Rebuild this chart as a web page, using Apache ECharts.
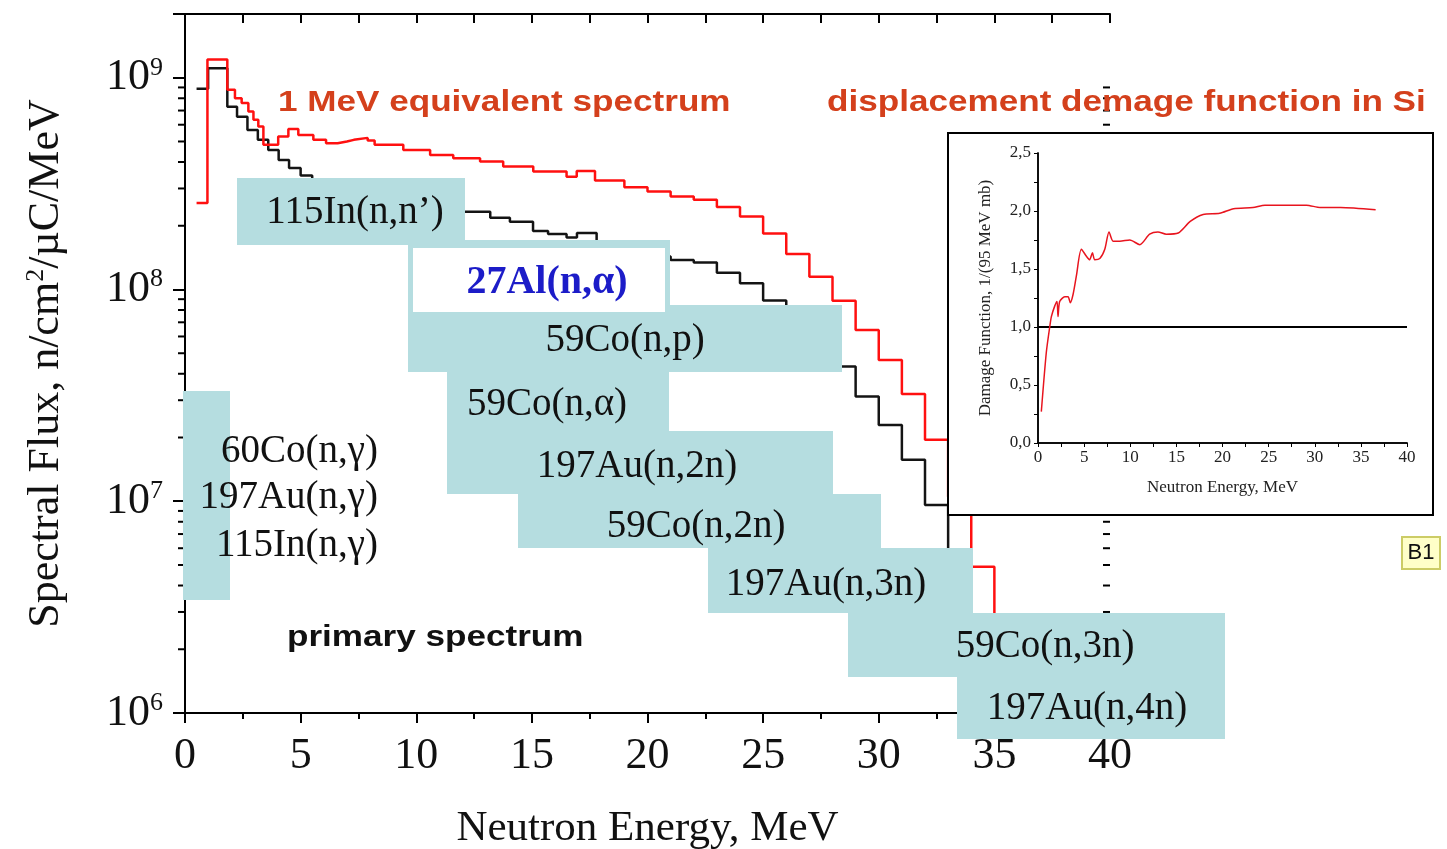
<!DOCTYPE html>
<html><head><meta charset="utf-8">
<script src="https://cdn.jsdelivr.net/npm/echarts@6/dist/echarts.min.js"></script>
<style>html,body{margin:0;padding:0;background:#fff}#c{width:1447px;height:849px}</style>
</head><body><div id="c"></div>
<script>
// ================= DATA =================
// Primary neutron spectrum (black histogram): bin edges (MeV) and flux per bin
const primaryEdges = [0.5, 1.0, 1.83, 2.25, 2.7, 3.15, 3.6, 4.05, 4.5, 5.0, 5.5, 6.0, 7, 8, 9, 10, 11, 12.0, 13.2, 14.05, 15.05, 15.7, 16.5, 16.95, 17.8, 19, 20, 21, 22, 23, 24, 25, 26, 27, 28, 29, 30, 31, 32, 33, 34];
const primaryFlux  = [8.87e8, 1.11e9, 7.29e8, 6.54e8, 5.67e8, 5.09e8, 4.56e8, 4.09e8, 3.75e8, 3.45e8, 3.30e8, 3.15e8, 3.0e8, 2.85e8, 2.7e8, 2.55e8, 2.40e8, 2.33e8, 2.18e8, 2.09e8, 1.89e8, 1.83e8, 1.76e8, 1.85e8, 1.58e8, 1.50e8, 1.43e8, 1.38e8, 1.34e8, 1.20e8, 1.07e8, 8.88e7, 7.6e7, 6.0e7, 4.33e7, 3.12e7, 2.29e7, 1.57e7, 9.6e6, 3.5e6];
// 1 MeV equivalent spectrum (red histogram)
const equivEdges = [0.5, 0.97, 1.83, 2.16, 2.45, 2.74, 2.96, 3.17, 3.39, 4.03, 4.47, 4.9, 5.55, 6.1, 6.6, 7.0, 7.3, 7.9, 8.2, 9.44, 10.6, 11.6, 12.76, 13.76, 15.06, 16.5, 16.94, 17.73, 19, 20, 21, 22, 23, 24, 25, 26, 27, 28, 29, 30, 31, 32, 33, 34, 35, 36];
const equivFlux  = [2.56e8, 1.22e9, 8.77e8, 8.01e8, 7.59e8, 6.92e8, 6.33e8, 5.88e8, 4.82e8, 5.28e8, 5.72e8, 5.37e8, 5.09e8, 4.91e8, 5.0e8, 5.09e8, 5.2e8, 5.05e8, 4.82e8, 4.56e8, 4.32e8, 4.17e8, 4.02e8, 3.81e8, 3.61e8, 3.41e8, 3.63e8, 3.27e8, 3.04e8, 2.90e8, 2.75e8, 2.65e8, 2.45e8, 2.21e8, 1.84e8, 1.47e8, 1.15e8, 8.84e7, 6.44e7, 4.64e7, 3.21e7, 1.95e7, 1.05e7, 4.91e6, 2.0e6];
// Displacement damage function in Si (inset)
const damageEnergy = [0.36, 0.9, 1.27, 1.45, 1.81, 2.06, 2.17, 2.35, 2.9, 3.26, 3.5, 3.8, 4.16, 4.7, 5.25, 5.6, 5.9, 6.15, 6.7, 7.24, 7.7, 8.14, 8.87, 9.95, 11.04, 12.1, 13.0, 13.9, 15.2, 16.5, 17.9, 19.7, 21.2, 23.3, 24.6, 25.5, 29.1, 30.6, 32.8, 36.6];
const damageValue  = [0.27, 0.78, 1.0, 1.09, 1.18, 1.22, 1.09, 1.22, 1.26, 1.26, 1.21, 1.28, 1.44, 1.67, 1.61, 1.58, 1.64, 1.58, 1.59, 1.67, 1.82, 1.74, 1.74, 1.75, 1.71, 1.80, 1.82, 1.80, 1.81, 1.91, 1.97, 1.98, 2.02, 2.03, 2.05, 2.05, 2.05, 2.03, 2.03, 2.01];
const damageReference = 1.0;
// Reaction threshold labels
const reactionLabels = ['115In(n,n’)', '59Co(n,p)', '59Co(n,α)', '197Au(n,2n)', '59Co(n,2n)', '197Au(n,3n)', '59Co(n,3n)', '197Au(n,4n)'];
const highlightLabel = '27Al(n,α)';
const captureLabels = ['60Co(n,γ)', '197Au(n,γ)', '115In(n,γ)'];
const xTickValues = [0, 5, 10, 15, 20, 25, 30, 35, 40];
const yDecades = [6, 7, 8, 9];
const insetYTicks = [0, 0.5, 1.0, 1.5, 2.0, 2.5];

// ================= LAYOUT =================
const boxColor = '#b5dde0';
const boxRects = [ [237,178,228,67], [408,305,434,67], [447,371,222,61], [447,431,386,63], [518,494,363,54], [708,548,265,65], [848,613,377,64], [957,677,268,62] ];
const boxTextPos = [ [355,213], [625,341], [547,405], [637,467], [696,527], [826,585], [1045,647], [1087,709] ];
const alOuter = [408,240,262,72], alInner = [413,248,252,64], alTextPos = [547,283];
const capBox = [183,391,47,209], capTextX = 378, capTextY = [452,498,546];

function histogram(edges, vals) {
  const pts = vals.map((v, i) => [edges[i], v]);
  pts.push([edges[edges.length - 1], vals[vals.length - 1]]);
  return pts;
}
const minorVals = [];
yDecades.forEach(d => { for (let k = 2; k <= 9; k++) minorVals.push([0, k * Math.pow(10, d)]); });

const serif = '"Liberation Serif", "Times New Roman", serif';
const sans = '"Liberation Sans", Arial, sans-serif';
const yFmt = v => { const e = Math.log10(v); return Math.abs(e - Math.round(e)) < 1e-6 ? '{b|10}{s|' + Math.round(e) + '}' : ''; };

const chart = echarts.init(document.getElementById('c'), null, {renderer: 'canvas'});
const axisLine = {show: true, lineStyle: {color: '#000', width: 2}};

const graphics = [];
function rect(r, fill, z, extra) { graphics.push(Object.assign({type: 'rect', shape: {x: r[0], y: r[1], width: r[2], height: r[3]}, style: {fill: fill}, z: z, silent: true}, extra || {})); }
function text(t, x, y, opts) {
  graphics.push({type: 'text', x: x, y: y, z: opts.z || 52, scaleX: opts.scaleX || 1, silent: true,
    style: {text: t, fill: opts.color || '#111', fontSize: opts.size, fontFamily: opts.family, fontWeight: opts.weight || 'normal',
      align: opts.align || 'center', verticalAlign: 'middle', textAlign: opts.align || 'center', textVerticalAlign: 'middle'}});
}
rect(alOuter, boxColor, 50);
boxRects.forEach(r => rect(r, boxColor, 50));
rect(capBox, boxColor, 50);
rect(alInner, '#ffffff', 51);
reactionLabels.forEach((t, i) => text(t, boxTextPos[i][0], boxTextPos[i][1], {size: 39, family: serif}));
captureLabels.forEach((t, i) => text(t, capTextX, capTextY[i], {size: 39, family: serif, align: 'right'}));
text(highlightLabel, alTextPos[0], alTextPos[1], {size: 40, family: serif, weight: 'bold', color: '#1c1cc8'});
text('1 MeV equivalent spectrum', 278, 103, {size: 30, family: sans, weight: 'bold', color: '#d4401c', align: 'left', scaleX: 1.17});
text('displacement demage function in Si', 827, 103, {size: 30, family: sans, weight: 'bold', color: '#d4401c', align: 'left', scaleX: 1.17});
text('primary spectrum', 287, 638, {size: 30, family: sans, weight: 'bold', color: '#111', align: 'left', scaleX: 1.17});
// inset frame
graphics.push({type: 'rect', shape: {x: 948, y: 133, width: 485, height: 382}, style: {fill: '#fff', stroke: '#000', lineWidth: 2}, z: 60, silent: true});
// B1 tag
graphics.push({type: 'rect', shape: {x: 1402, y: 537, width: 38, height: 32}, style: {fill: '#ffffc8', stroke: '#cccc66', lineWidth: 2}, z: 60, silent: true});
text('B1', 1421, 553, {size: 22, family: sans, color: '#111', z: 61});

const insetAxisCommon = {axisLine: {show: true, lineStyle: {color: '#000', width: 1.5}}, splitLine: {show: false}, z: 70};

const option = {
  backgroundColor: '#fff',
  animation: false,
  grid: [
    {left: 185, top: 14, width: 925, height: 699, containLabel: false, outerBoundsMode: 'none'},
    {left: 1038, top: 153, width: 369, height: 290, z: 70, containLabel: false, outerBoundsMode: 'none'}
  ],
  xAxis: [
    {gridIndex: 0, type: 'value', min: 0, max: 40, interval: 5, position: 'bottom',
      name: 'Neutron Energy, MeV', nameLocation: 'middle', nameGap: 94,
      nameTextStyle: {fontFamily: serif, fontSize: 43, color: '#111'},
      axisLine: axisLine, axisTick: {show: true, inside: false, length: 10, lineStyle: {color: '#000', width: 2}},
      minorTick: {show: true, splitNumber: 2, length: 6, lineStyle: {color: '#000', width: 2}},
      axisLabel: {fontFamily: serif, fontSize: 44, color: '#111', margin: 21, formatter: v => xTickValues.indexOf(v) >= 0 ? String(v) : ''},
      splitLine: {show: false}},
    {gridIndex: 0, type: 'value', min: 0, max: 40, interval: 5, position: 'top',
      axisLine: axisLine, axisTick: {show: true, inside: true, length: 9, lineStyle: {color: '#000', width: 2}},
      minorTick: {show: true, splitNumber: 2, length: 9, lineStyle: {color: '#000', width: 2}},
      axisLabel: {show: false}, splitLine: {show: false}},
    Object.assign({gridIndex: 1, type: 'value', min: 0, max: 40, interval: 5, position: 'bottom',
      name: 'Neutron Energy, MeV', nameLocation: 'middle', nameGap: 36,
      nameTextStyle: {fontFamily: serif, fontSize: 17, color: '#222'},
      axisTick: {show: true, inside: false, length: 4, lineStyle: {color: '#000'}},
      minorTick: {show: true, splitNumber: 2, length: 3, lineStyle: {color: '#000'}},
      axisLabel: {fontFamily: serif, fontSize: 17, color: '#222', margin: 6}}, insetAxisCommon),
    Object.assign({gridIndex: 1, type: 'value', min: 0, max: 40, interval: 5, position: 'top',
      axisTick: {show: true, inside: true, length: 4, lineStyle: {color: '#000'}},
      minorTick: {show: true, splitNumber: 2, length: 4, lineStyle: {color: '#000'}},
      axisLabel: {show: false}}, insetAxisCommon)
  ],
  yAxis: [
    {gridIndex: 0, type: 'log', logBase: 10, min: 1e6, max: 2e9, position: 'left',
      name: '{a|Spectral Flux, n/cm}{s|2}{a|/µC/MeV}', nameLocation: 'middle', nameGap: 116, nameRotate: 90,
      nameTextStyle: {rich: {a: {fontFamily: serif, fontSize: 44, color: '#111', lineHeight: 46}, s: {fontFamily: serif, fontSize: 26, color: '#111', verticalAlign: 'top', lineHeight: 26}}},
      axisLine: axisLine, axisTick: {show: true, inside: false, length: 12, lineStyle: {color: '#000', width: 2}},
      axisLabel: {margin: 22, formatter: yFmt, rich: {b: {fontFamily: serif, fontSize: 44, color: '#111', lineHeight: 46}, s: {fontFamily: serif, fontSize: 26, color: '#111', verticalAlign: 'top', lineHeight: 24}}},
      splitLine: {show: false}},
    {gridIndex: 0, type: 'log', logBase: 10, min: 1e6, max: 2e9, position: 'right',
      axisLine: axisLine, axisTick: {show: true, inside: true, length: 12, lineStyle: {color: '#000', width: 2}},
      axisLabel: {show: false}, splitLine: {show: false}},
    Object.assign({gridIndex: 1, type: 'value', min: 0, max: 2.5, interval: 0.5, position: 'left',
      name: 'Damage Function, 1/(95 MeV mb)', nameLocation: 'middle', nameGap: 44, nameRotate: 90,
      nameTextStyle: {fontFamily: serif, fontSize: 17, color: '#222'},
      axisTick: {show: true, inside: false, length: 4, lineStyle: {color: '#000'}},
      minorTick: {show: true, splitNumber: 2, length: 3, lineStyle: {color: '#000'}},
      axisLabel: {fontFamily: serif, fontSize: 17, color: '#222', margin: 7, formatter: v => insetYTicks.indexOf(v) >= 0 ? v.toFixed(1).replace('.', ',') : ''}}, insetAxisCommon),
    Object.assign({gridIndex: 1, type: 'value', min: 0, max: 2.5, interval: 0.5, position: 'right',
      axisTick: {show: true, inside: true, length: 4, lineStyle: {color: '#000'}},
      minorTick: {show: true, splitNumber: 2, length: 4, lineStyle: {color: '#000'}},
      axisLabel: {show: false}}, insetAxisCommon)
  ],
  series: [
    {type: 'line', name: 'primary', xAxisIndex: 0, yAxisIndex: 0, step: 'end', symbol: 'none', z: 3,
      data: histogram(primaryEdges, primaryFlux), lineStyle: {color: '#141414', width: 2.5}},
    {type: 'line', name: 'equivalent', xAxisIndex: 0, yAxisIndex: 0, step: 'end', symbol: 'none', z: 4,
      data: histogram(equivEdges, equivFlux), lineStyle: {color: '#ff1010', width: 2.5}},
    {type: 'custom', xAxisIndex: 0, yAxisIndex: 0, z: 2, clip: false, silent: true, data: minorVals,
      renderItem: function (params, api) {
        const v = api.value(1);
        const pl = api.coord([0, v]), pr = api.coord([40, v]);
        return {type: 'group', children: [
          {type: 'line', shape: {x1: pl[0] - 7, y1: pl[1], x2: pl[0], y2: pl[1]}, style: {stroke: '#000', lineWidth: 2}},
          {type: 'line', shape: {x1: pr[0] - 7, y1: pr[1], x2: pr[0], y2: pr[1]}, style: {stroke: '#000', lineWidth: 2}}
        ]};
      }},
    {type: 'line', name: 'damage', xAxisIndex: 2, yAxisIndex: 2, symbol: 'none', smooth: 0.25, z: 72,
      data: damageEnergy.map((e, i) => [e, damageValue[i]]), lineStyle: {color: '#e8141e', width: 1.5},
      markLine: {silent: true, symbol: 'none', label: {show: false}, lineStyle: {color: '#000', width: 2, type: 'solid'}, data: [{yAxis: damageReference}], z: 71}}
  ],
  graphic: {elements: graphics}
};
chart.setOption(option);
</script>
</body></html>
